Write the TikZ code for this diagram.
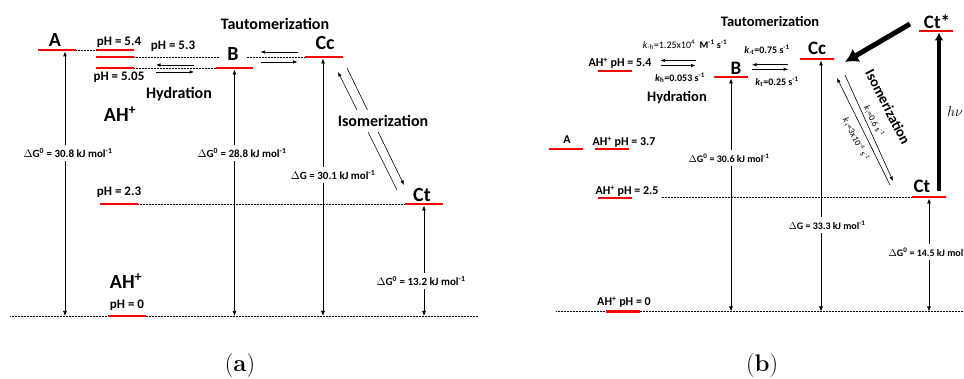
\documentclass[tikz,border=0pt]{standalone}
\usepackage{fontspec}
\newfontfamily\calfont{Carlito}
\usetikzlibrary{arrows.meta}

\newcommand\fsz[1]{\fontsize{#1}{#1}\selectfont}

\tikzset{
  lev/.style={fill=red, inner sep=0pt, minimum width=38, minimum height=2.6},
  levb/.style={lev, minimum width=34},
  big/.style={font=\calfont\bfseries\fsz{20}, inner sep=0pt},
  tag/.style={font=\calfont\bfseries\fsz{13}, inner sep=0pt},
  tagb/.style={font=\calfont\bfseries\fsz{12}, inner sep=0pt},
  ttl/.style={font=\calfont\bfseries\fsz{16}, inner sep=0pt},
  ttlb/.style={font=\calfont\bfseries\fsz{14.5}, inner sep=0pt},
  dg/.style={font=\calfont\bfseries\fsz{11}, fill=white, inner xsep=1pt, inner ysep=3.5pt},
  dgb/.style={dg, font=\calfont\bfseries\fsz{10}},
  rate/.style={font=\calfont\fsz{10}, inner sep=0pt},
  dots/.style={line width=0.6pt, dash pattern=on 0.6pt off 0.9pt},
  dbl/.style={{Latex[length=5pt,width=4pt]}-{Latex[length=5pt,width=4pt]}, line width=0.7pt},
  sarr/.style={-{Latex[length=4.5pt,width=3.5pt]}, line width=0.6pt},
  fat/.style={-{Latex[length=13pt,width=15pt]}, line width=5pt},
  fatv/.style={-{Latex[length=8pt,width=9pt]}, line width=4pt},
  captxt/.style={font=\rmfamily\fsz{24}, inner sep=0pt},
  pics/eqpair/.style 2 args={code={
    \draw[sarr] (#1/2,-#2/2) -- (-#1/2,-#2/2);
    \draw[sarr] (-#1/2,#2/2) -- (#1/2,#2/2);
  }}
}

\begin{document}
\begin{tikzpicture}[x=1pt,y=-1pt]
  \useasboundingbox (0,0) rectangle (964,379);

  % (a) levels
  \node[lev] (aA) at (57,50) {};
  \node[lev] (a54) at (115,50) {};
  \node[lev] (a53) at (115,57) {};
  \node[lev] (a505) at (115,68) {};
  \node[lev, minimum width=37] (aB) at (234.5,68) {};
  \node[lev] (aCc) at (324,57) {};
  \node[lev] (a23) at (119,204) {};
  \node[lev] (aCt) at (424,204) {};
  \node[lev] (a0) at (126.5,316) {};
  \coordinate (abase) at (10,316);
  \coordinate (aend) at (478,316);

  \draw[dots] (abase) -- (a0.west) (a0.east) -- (aend);
  \draw[dots] (aA.east) -- (a54.west);
  \draw[dots] (a53.east) -- (aCc.west);
  \draw[dots] (a505.east) -- (aB.west);
  \draw[dots] (a23.east) -- (aCt.west);

  \node[big] (tA) at (55,40) {A};
  \node[big, fill=white, inner xsep=7pt] (tB) at (233,54) {B};
  \node[big] (tCc) at (325,43) {Cc};
  \node[big] (tCt) at (422,195) {Ct};
  \node[big] (tAH) at (120,114) {AH\textsuperscript{+}};
  \node[big] (tAH0) at (126,281) {AH\textsuperscript{+}};
  \node[tag] (t54) at (119,42) {pH = 5.4};
  \node[tag] (t53) at (173,46) {pH = 5.3};
  \node[tag] (t505) at (119,77) {pH = 5.05};
  \node[tag] (t23) at (119,192) {pH = 2.3};
  \node[tag] (t0) at (127,305) {pH = 0};
  \node[ttl] (tTa) at (275,24) {Tautomerization};
  \node[ttl] (tHa) at (179,94) {Hydration};

  \pic at (175,68.5) {eqpair={38}{7}};
  \pic at (279,57) {eqpair={37}{10}};

  % energy gaps
  \coordinate (aAx) at ([xshift=8pt]aA.south);
  \draw[dbl] (aAx) -- (aAx |- abase);
  \draw[dbl] (aB.south) -- (aB.south |- abase);
  \draw[dbl] ([xshift=-1pt]aCc.south) -- ([xshift=-1pt]aCc.south |- abase);
  \draw[dbl] (aCt.south) -- (aCt.south |- abase);
  \node[dg] (ga1) at (68,153) {$\Delta$G\textsuperscript{0} = 30.8 kJ mol\textsuperscript{-1}};
  \node[dg] (ga2) at (242,153) {$\Delta$G\textsuperscript{0} = 28.8 kJ mol\textsuperscript{-1}};
  \node[dg] (ga3) at (333,175) {$\Delta$G = 30.1 kJ mol\textsuperscript{-1}};
  \node[dg] (ga4) at (421,281) {$\Delta$G\textsuperscript{0} = 13.2 kJ mol\textsuperscript{-1}};

  % isomerization
  \coordinate (ai1) at (397,190);
  \coordinate (ai2) at (338,72);
  \coordinate (ai3) at (347,68);
  \coordinate (ai4) at (404,185);
  \draw[sarr] (ai1) -- (ai2);
  \draw[sarr] (ai3) -- (ai4);
  \node[ttl, fill=white, inner ysep=5pt, inner xsep=2pt] (tIa) at (383,121) {Isomerization};

  \node[captxt] (capa) at (240,366) {(\textbf{a})};

  % (b) levels
  \node[levb] (bA) at (566,149) {};
  \node[levb] (b37) at (612,149) {};
  \node[levb] (b54) at (615,71) {};
  \node[levb] (b25) at (615,198) {};
  \node[levb] (b0) at (622.5,311.5) {};
  \node[levb] (bB) at (731,77) {};
  \node[levb] (bCc) at (817,59) {};
  \node[levb] (bCt) at (929,197) {};
  \node[levb] (bCts) at (935.5,31) {};
  \coordinate (bbase) at (556,311.5);
  \coordinate (bend) at (964,311.5);

  \node[tagb] (tbA) at (567,140) {A};
  \node[tagb] (t37) at (624,142) {AH\textsuperscript{+} pH = 3.7};
  \node[tagb] (tb54) at (620,63) {AH\textsuperscript{+} pH = 5.4};
  \node[tagb] (t25) at (627,191) {AH\textsuperscript{+} pH = 2.5};
  \node[tagb] (tb0) at (624,302) {AH\textsuperscript{+} pH = 0};
  \node[big, font=\calfont\bfseries\fsz{19}] (tbB) at (736,68) {B};
  \node[big, font=\calfont\bfseries\fsz{19}] (tbCc) at (817,48) {Cc};
  \node[big, font=\calfont\bfseries\fsz{19}] (tbCt) at (922,186) {Ct};
  \node[big, font=\calfont\bfseries\fsz{19}] (tbCts) at (937,22) {Ct*};
  \node[ttlb] (tTb) at (770,21) {Tautomerization};
  \node[ttlb] (tHb) at (677,98) {Hydration};

  \draw[dots] (bbase) -- (b0.west) (b0.east) -- (bend);
  \draw[dots] ([xshift=3pt]t25.east |- bCt.west) -- (bCt.west);

  \pic at (678,63) {eqpair={35}{5}};
  \pic at (770,67) {eqpair={36}{4.5}};
  \node[rate] (kmh) at (685,45) {\textit{k}\textsubscript{-h}=1.25x10\textsuperscript{4}\ \ \textbf{M\textsuperscript{-1} s\textsuperscript{-1}}};
  \node[rate, font=\calfont\bfseries\fsz{10}] (kh) at (680,78) {\textit{k}\textsubscript{h}=0.053 s\textsuperscript{-1}};
  \node[rate, font=\calfont\bfseries\fsz{10}] (kmt) at (767,50) {\textit{k}\textsubscript{-t}=0.75 s\textsuperscript{-1}};
  \node[rate, font=\calfont\bfseries\fsz{10}] (kt) at (777,82) {\textit{k}\textsubscript{t}=0.25 s\textsuperscript{-1}};

  % energy gaps
  \draw[dbl] (bB.south) -- (bB.south |- bbase);
  \draw[dbl] ([xshift=4pt]bCc.south) -- ([xshift=4pt]bCc.south |- bbase);
  \draw[dbl] (bCt.south) -- (bCt.south |- bbase);
  \node[dgb] (gb1) at (729,158) {$\Delta$G\textsuperscript{0} = 30.6 kJ mol\textsuperscript{-1}};
  \node[dgb] (gb2) at (827,225) {$\Delta$G = 33.3 kJ mol\textsuperscript{-1}};
  \node[dgb] (gb3) at (929,252) {$\Delta$G\textsuperscript{0} = 14.5 kJ mol\textsuperscript{-1}};

  % isomerization
  \coordinate (bi1) at (890,185);
  \coordinate (bi2) at (837,78);
  \coordinate (bi3) at (845,75);
  \coordinate (bi4) at (893,181);
  \draw[sarr] (bi1) -- (bi2);
  \draw[sarr] (bi3) -- (bi4);
  \node[ttlb, rotate=-63] (tIb) at (888,107) {Isomerization};
  \node[rate, font=\calfont\fsz{9}, rotate=-63] (ki) at (874,121) {\textit{k}\textsubscript{i}=0.6 s\textsuperscript{-1}};
  \node[rate, font=\calfont\fsz{9}, rotate=-63] (kmi) at (856,139) {\textit{k}\textsubscript{-i}=3x10\textsuperscript{-4} s\textsuperscript{-1}};

  % photoexcitation
  \coordinate (hv0) at ([xshift=10pt,yshift=4pt]bCt.north);
  \draw[fatv] (hv0) -- (hv0 |- bCts.south);
  \node[font=\fsz{15}, inner sep=0pt] (hv) at (955,112) {$h\nu$};
  \coordinate (f1) at (910,24);
  \coordinate (f2) at (845,62);
  \draw[fat] (f1) -- (f2);

  \node[captxt] (capb) at (762,366) {(\textbf{b})};
\end{tikzpicture}
\end{document}
